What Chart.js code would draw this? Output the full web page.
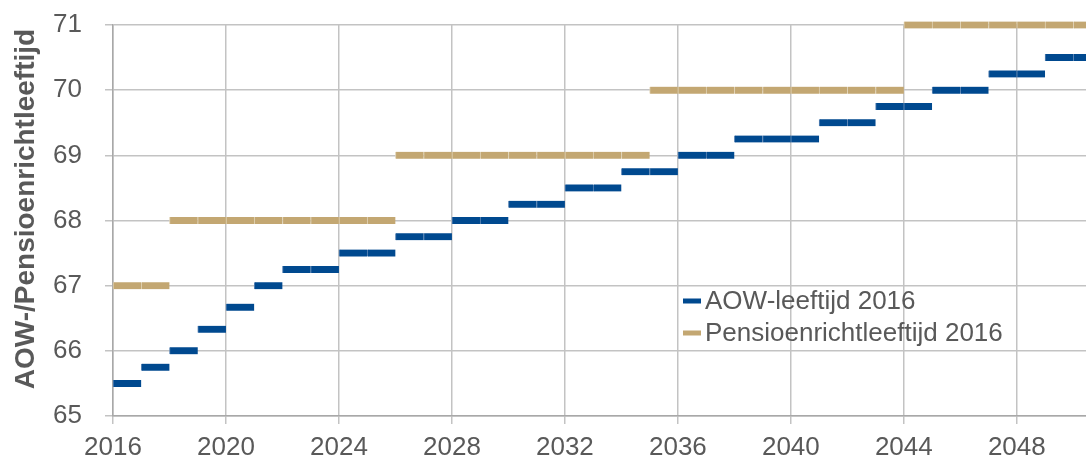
<!DOCTYPE html>
<html>
<head>
<meta charset="utf-8">
<script src="https://cdn.jsdelivr.net/npm/chart.js@4/dist/chart.umd.min.js"></script>
<style>
html,body{margin:0;padding:0;background:#fff;}
#wrap{width:1086px;height:459px;position:relative;}
</style>
</head>
<body>
<div id="wrap"><canvas id="c" width="1086" height="459"></canvas></div>
<script>
// ---- data ----
const years = [2016,2017,2018,2019,2020,2021,2022,2023,2024,2025,2026,2027,2028,2029,2030,2031,2032,2033,2034,2035,2036,2037,2038,2039,2040,2041,2042,2043,2044,2045,2046,2047,2048,2049,2050];
const aowValues = [65.5,65.75,66,66.33,66.67,67,67.25,67.25,67.5,67.5,67.75,67.75,68,68,68.25,68.25,68.5,68.5,68.75,68.75,69,69,69.25,69.25,69.25,69.5,69.5,69.75,69.75,70,70,70.25,70.25,70.5,70.5];
const pensioenValues = [67,67,68,68,68,68,68,68,68,68,69,69,69,69,69,69,69,69,69,70,70,70,70,70,70,70,70,70,71,71,71,71,71,71,71];
const seriesLabels = ['AOW-leeftijd 2016','Pensioenrichtleeftijd 2016'];
const xTickValues = [2016,2020,2024,2028,2032,2036,2040,2044,2048];
const yTickValues = [65,66,67,68,69,70,71];
const yTitle = 'AOW-/Pensioenrichtleeftijd';

const TXT = '#595959';
const FONT = '"Liberation Sans", Arial, sans-serif';
const colors = ['#00498f', '#c3a772'];
const sepColors = ['#5b85b5', '#e0d2b4'];

function toBars(vals){ return years.map((y,i)=>({y: vals[i], x: [y, y+1]})); }

const textPlugin = {
  id: 'customText',
  afterDraw(chart){
    const ctx = chart.ctx;
    ctx.save();
    // legend
    ctx.font = '26px ' + FONT;
    ctx.textBaseline = 'middle';
    ctx.textAlign = 'left';
    const rows = [301, 333];
    chart.data.datasets.forEach((ds, i) => {
      ctx.fillStyle = ds.backgroundColor;
      ctx.fillRect(683, rows[i] - 2.5, 18, 5);
      ctx.fillStyle = TXT;
      ctx.fillText(ds.label, 705, rows[i] + 1);
    });
    // y-axis title
    ctx.translate(34, 209);
    ctx.rotate(-Math.PI / 2);
    ctx.font = 'bold 28px ' + FONT;
    ctx.textAlign = 'center';
    ctx.textBaseline = 'alphabetic';
    ctx.fillStyle = TXT;
    ctx.fillText(yTitle, 0, 0);
    ctx.restore();
  }
};

new Chart(document.getElementById('c'), {
  type: 'bar',
  data: {
    datasets: [
      { label: seriesLabels[0], data: toBars(aowValues), backgroundColor: colors[0], borderColor: sepColors[0],
        borderWidth: {left: 1, right: 0, top: 0, bottom: 0}, borderSkipped: false, barThickness: 7, grouped: false, clip: false },
      { label: seriesLabels[1], data: toBars(pensioenValues), backgroundColor: colors[1], borderColor: sepColors[1],
        borderWidth: {left: 1, right: 0, top: 0, bottom: 0}, borderSkipped: false, barThickness: 7, grouped: false, clip: false }
    ]
  },
  options: {
    indexAxis: 'y',
    responsive: false,
    animation: false,
    devicePixelRatio: 1,
    layout: { padding: { top: 25, left: 0, right: 0, bottom: 0 } },
    plugins: { legend: { display: false }, tooltip: { enabled: false } },
    scales: {
      x: {
        type: 'linear', position: 'bottom', min: 2016, max: 2050.45, offset: false,
        afterBuildTicks: s => { s.ticks = xTickValues.map(v => ({value: v})); },
        afterFit: s => { s.height = 43; s.paddingLeft = 0; s.paddingRight = 0; },
        ticks: { color: TXT, font: { family: FONT, size: 26 }, padding: 8, maxRotation: 0, autoSkip: false,
                 callback: v => String(v) },
        grid: { color: '#c3c3c3', lineWidth: 1.5, tickLength: 8, offset: false },
        border: { color: '#a8a8a8', width: 1.5 }
      },
      y: {
        type: 'linear', min: 65, max: 71, offset: false, reverse: false,
        afterBuildTicks: s => { s.ticks = yTickValues.map(v => ({value: v})); },
        afterFit: s => { s.width = 113; s.paddingTop = 0; s.paddingBottom = 0; },
        ticks: { color: TXT, font: { family: FONT, size: 26 }, padding: 23, callback: v => String(v) },
        grid: { color: '#c3c3c3', lineWidth: 1.5, tickLength: 8, offset: false },
        border: { color: '#a8a8a8', width: 1.5 },
        title: { display: false }
      }
    }
  },
  plugins: [textPlugin]
});
</script>
</body>
</html>
